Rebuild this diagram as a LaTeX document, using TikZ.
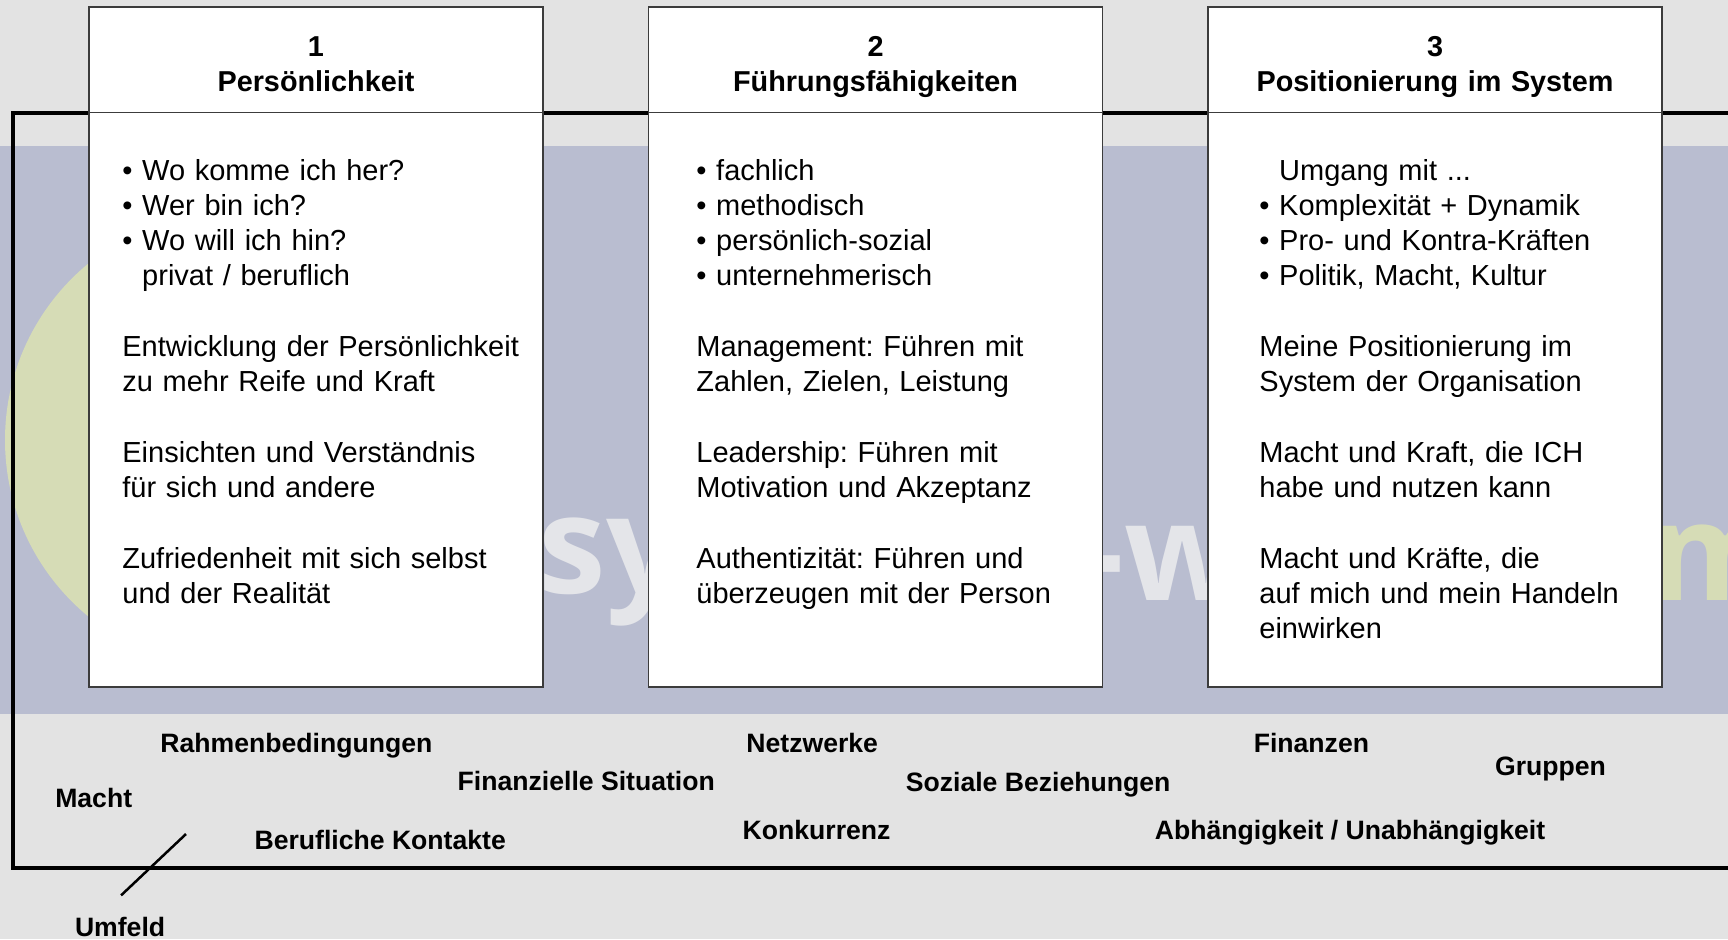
\documentclass[tikz,border=0pt]{standalone}
\usepackage{fontspec}
\setmainfont{Liberation Sans}
\newfontfamily\wmfont{Open Sans}
\usepackage{xcolor}
\usetikzlibrary{calc}

\definecolor{bggrey}{RGB}{227,227,227}
\definecolor{bandblue}{RGB}{185,189,208}
\definecolor{wmyellow}{RGB}{214,220,182}
\definecolor{wmwhite}{RGB}{228,229,233}
\definecolor{boxline}{RGB}{60,60,60}

\tikzset{
	column/.style={draw=boxline, line width=0.6pt, fill=white, minimum width=227pt, minimum height=340pt, inner sep=0pt},
	head/.style={font=\fontsize{14.4}{17.85}\selectfont\bfseries, text width=220pt, align=center, anchor=base, inner sep=0pt},
	body/.style={font=\frenchspacing\fontsize{14.5}{17.65}\selectfont, text width=210pt, align=left, anchor=base west, inner sep=0pt},
	factor/.style={font=\fontsize{13.3}{15}\selectfont\bfseries, anchor=base, inner sep=0pt},
	watermark/.style={font=\wmfont\bfseries\fontsize{68}{68}\selectfont, anchor=base west, inner sep=0pt}
}

\begin{document}
\begin{tikzpicture}[x=0.5pt, y=-0.5pt]
			\useasboundingbox (0,0) rectangle (1728,939);
			\clip (0,0) rectangle (1728,939);
			% background and faded logo
			\fill[bggrey] (0,0) rectangle (1728,939);
			\fill[bandblue] (0,146) rectangle (1728,714);
			\fill[wmyellow] (233.5,440) circle[radius=114.25pt];
			\node[watermark, text=wmwhite] (wm1) at (538,593) {sy};
			\node[watermark, text=wmwhite] (wm2) at (1080,600) {-w};
			\node[watermark, text=wmyellow] (wm3) at (1650,600) {m};
			% frame
			\draw[line width=1.65pt] (1740,113) -- (13,113) -- (13,868) -- (1740,868);
			% columns
			\node[column] (box1) at (316,347) {};
			\node[column] (box2) at (875.5,347) {};
			\node[column] (box3) at (1435,347) {};
			\draw[boxline, line width=0.6pt] ([yshift=-53pt]box1.north west) -- ([yshift=-53pt]box1.north east);
			\draw[boxline, line width=0.6pt] ([yshift=-53pt]box2.north west) -- ([yshift=-53pt]box2.north east);
			\draw[boxline, line width=0.6pt] ([yshift=-53pt]box3.north west) -- ([yshift=-53pt]box3.north east);
			\node[head] (head1) at (316,56) {1\\Persönlichkeit};
			\node[head] (head2) at (875.5,56) {2\\Führungsfähigkeiten};
			\node[head] (head3) at (1435,56) {3\\Positionierung im System};
			\node[body] (text1) at (122,180)
			{
				• Wo komme ich her?\\
				• Wer bin ich?\\
				• Wo will ich hin?\\
				\hphantom{• }privat / beruflich\\[17.65pt]
				Entwicklung der Persönlichkeit\\
				zu mehr Reife und Kraft\\[17.65pt]
				Einsichten und Verständnis\\
				für sich und andere\\[17.65pt]
				Zufriedenheit mit sich selbst\\
				und der Realität
			};
			\node[body] (text2) at (696,180)
			{
				• fachlich\\
				• methodisch\\
				• persönlich-sozial\\
				• unternehmerisch\\[17.65pt]
				Management: Führen mit\\
				Zahlen, Zielen, Leistung\\[17.65pt]
				Leadership: Führen mit\\
				Motivation und Akzeptanz\\[17.65pt]
				Authentizität: Führen und\\
				überzeugen mit der Person
			};
			\node[body] (text3) at (1259,180)
			{
				\hphantom{• }Umgang mit ...\\
				• Komplexität + Dynamik\\
				• Pro- und Kontra-Kräften\\
				• Politik, Macht, Kultur\\[17.65pt]
				Meine Positionierung im\\
				System der Organisation\\[17.65pt]
				Macht und Kraft, die ICH\\
				habe und nutzen kann\\[17.65pt]
				Macht und Kräfte, die\\
				auf mich und mein Handeln\\
				einwirken
			};
			% surroundings
			\node[factor] (rahmen) at (296.4,752) {Rahmenbedingungen};
			\node[factor] (macht) at (93.7,807) {Macht};
			\node[factor] (finsit) at (586.3,790) {Finanzielle Situation};
			\node[factor] (kontakte) at (380.2,849) {Berufliche Kontakte};
			\node[factor] (netz) at (812.2,752) {Netzwerke};
			\node[factor] (konkurrenz) at (816.6,839) {Konkurrenz};
			\node[factor] (sozial) at (1038.1,791) {Soziale Beziehungen};
			\node[factor] (finanzen) at (1311.4,752) {Finanzen};
			\node[factor] (gruppen) at (1550.5,775) {Gruppen};
			\node[factor] (abh) at (1350,839) {Abhängigkeit / Unabhängigkeit};
			\node[factor] (umfeld) at (120.1,936) {Umfeld};
			\coordinate (umfeldend) at (186,834);
			\draw[line width=1.25pt] (umfeld.north) ++(1,-21) -- (umfeldend);
		\end{tikzpicture}
\end{document}
